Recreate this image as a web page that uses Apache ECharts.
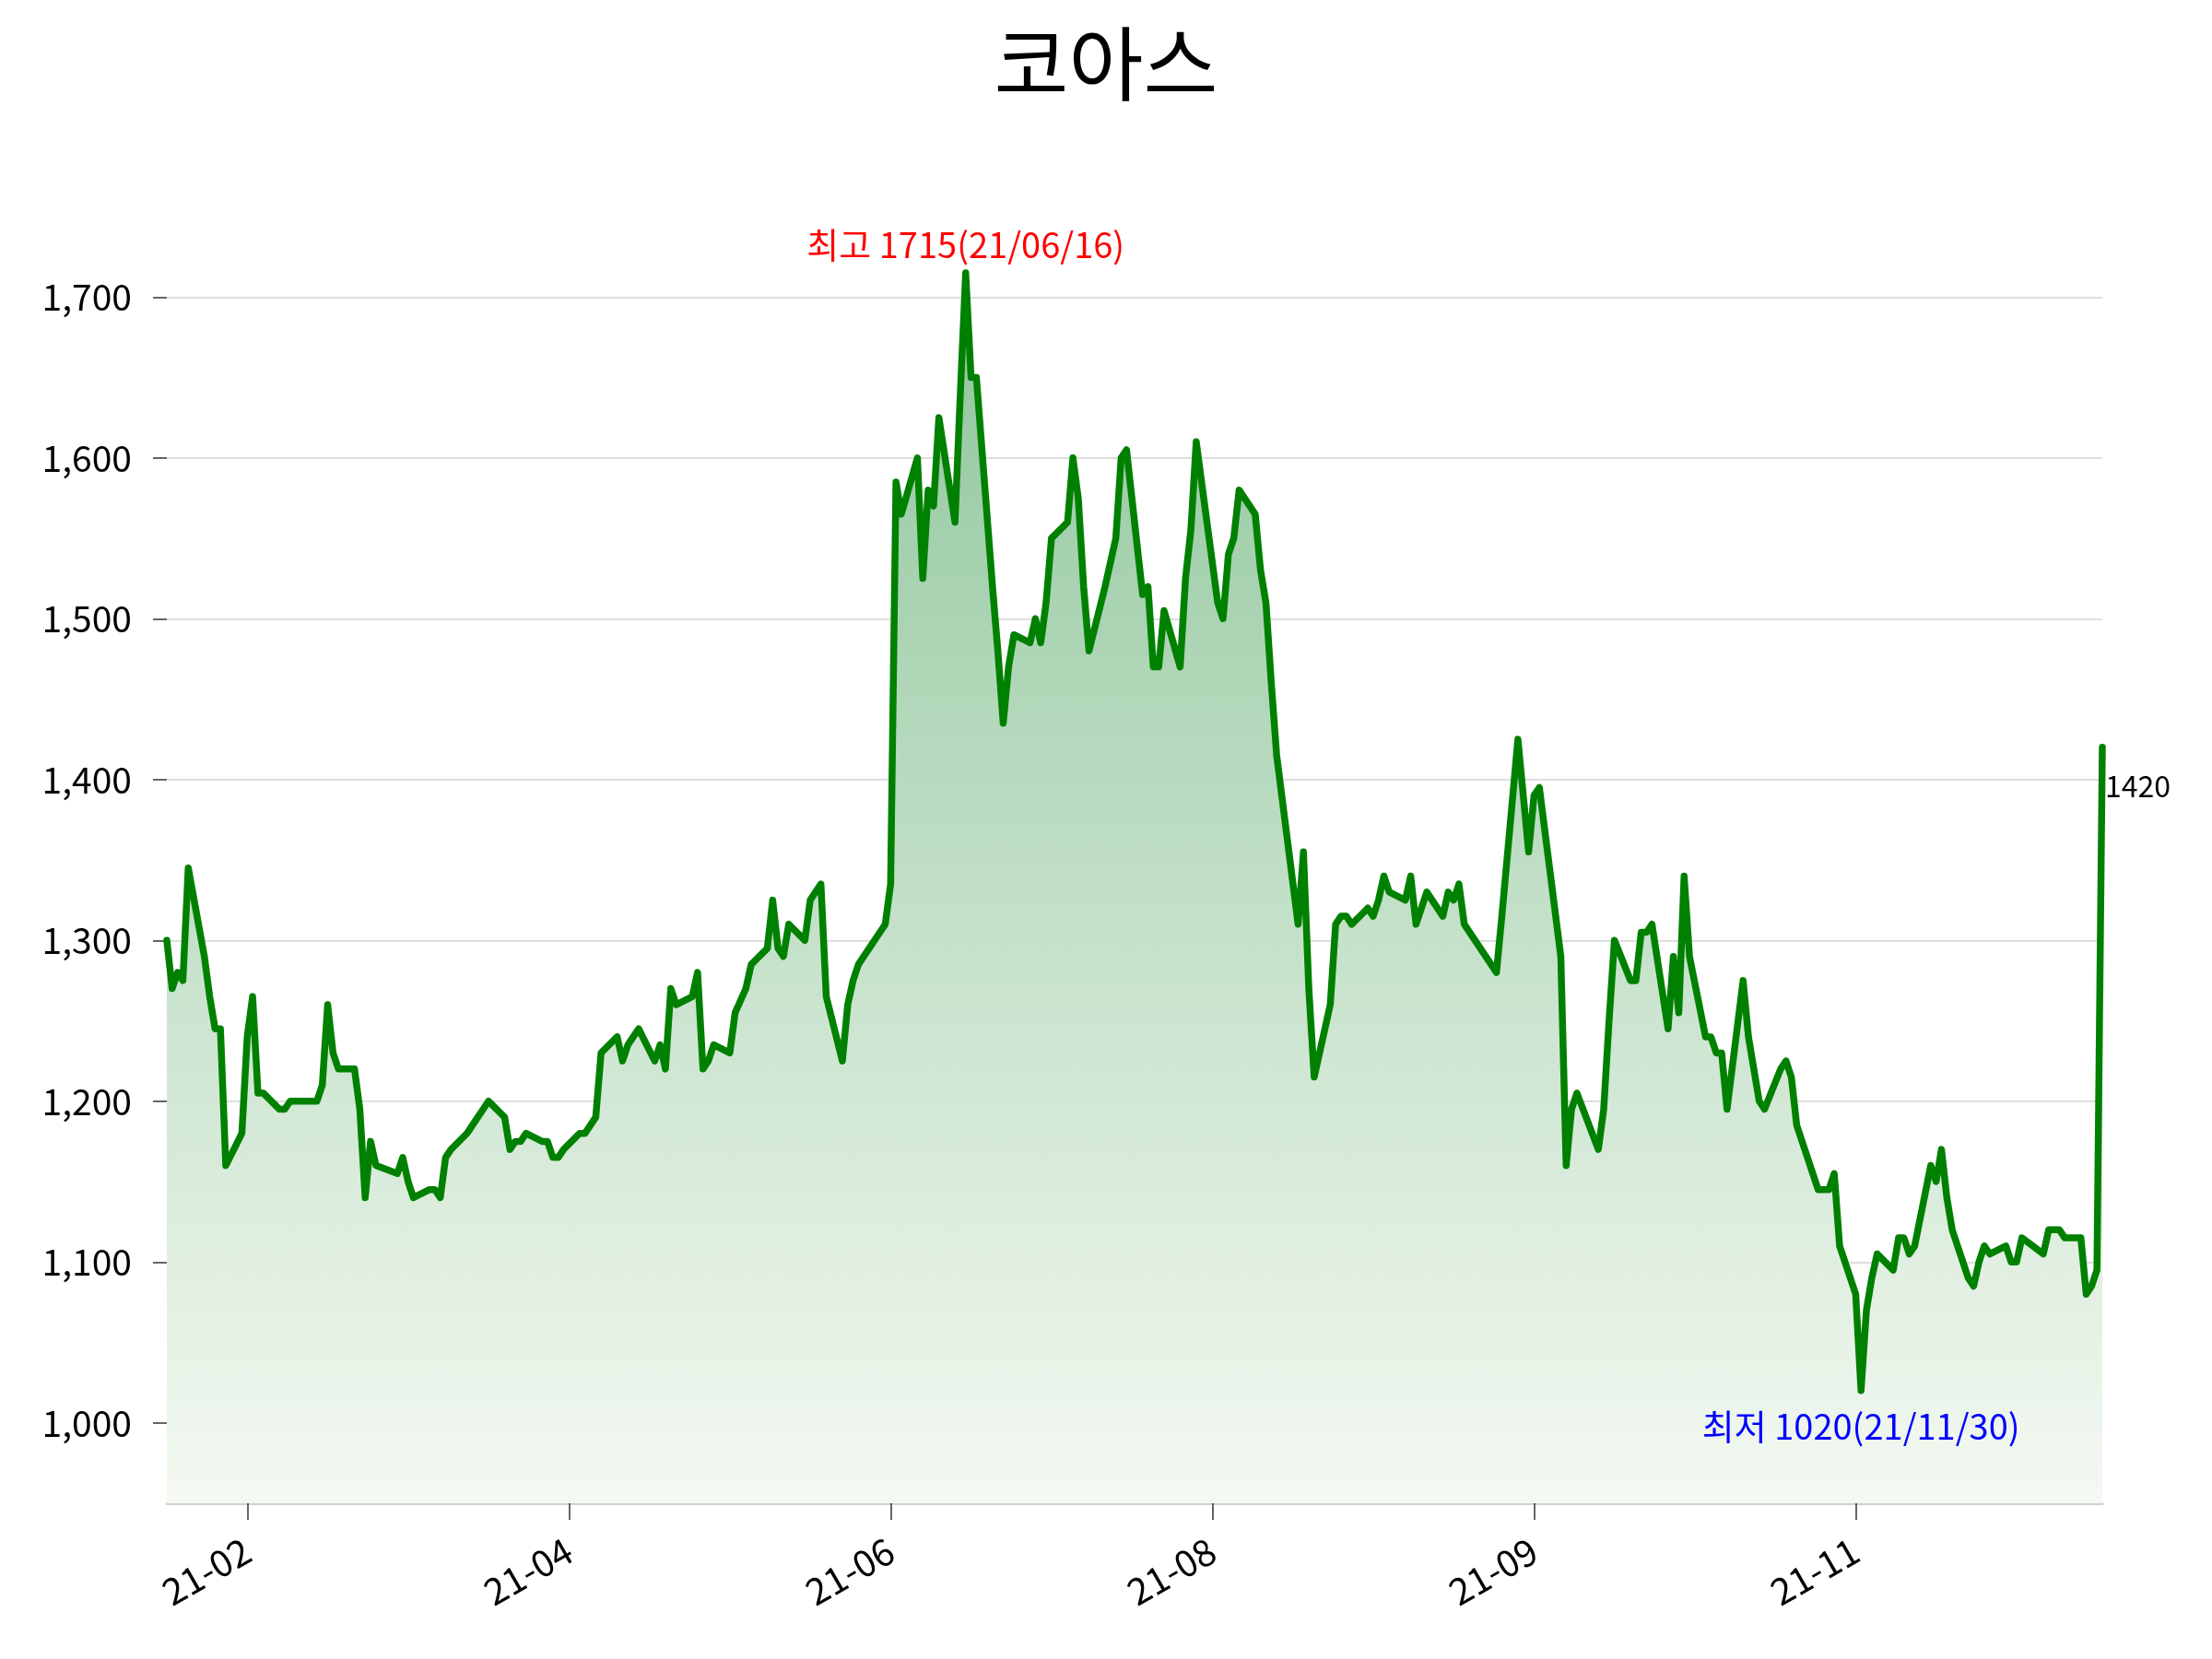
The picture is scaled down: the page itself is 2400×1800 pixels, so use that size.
<!DOCTYPE html>
<html>
<head>
<meta charset="utf-8">
<title>코아스</title>
<script src="https://cdn.jsdelivr.net/npm/echarts@6/dist/echarts.min.js"></script>
<style>
  html, body { margin: 0; padding: 0; background: #fff; }
  #chart { width: 2400px; height: 1800px; }
</style>
</head>
<body>
<div id="chart"></div>
<script>
const chartTitle = "코아스";
const fontFamily = "Noto Sans CJK KR";

// trading days and closing prices
const tradeDates = [
  "2021-01-18","2021-01-19","2021-01-20","2021-01-21","2021-01-22","2021-01-25","2021-01-26","2021-01-27","2021-01-28","2021-01-29",
  "2021-02-01","2021-02-02","2021-02-03","2021-02-04","2021-02-05","2021-02-08","2021-02-09","2021-02-10","2021-02-15","2021-02-16","2021-02-17","2021-02-18","2021-02-19","2021-02-22","2021-02-23","2021-02-24","2021-02-25","2021-02-26",
  "2021-03-02","2021-03-03","2021-03-04","2021-03-05","2021-03-08","2021-03-09","2021-03-10","2021-03-11","2021-03-12","2021-03-15","2021-03-16","2021-03-17","2021-03-18","2021-03-19","2021-03-22","2021-03-23","2021-03-24","2021-03-25","2021-03-26","2021-03-29","2021-03-30","2021-03-31",
  "2021-04-01","2021-04-02","2021-04-05","2021-04-06","2021-04-07","2021-04-08","2021-04-09","2021-04-12","2021-04-13","2021-04-14","2021-04-15","2021-04-16","2021-04-19","2021-04-20","2021-04-21","2021-04-22","2021-04-23","2021-04-26","2021-04-27","2021-04-28","2021-04-29","2021-04-30",
  "2021-05-03","2021-05-04","2021-05-06","2021-05-07","2021-05-10","2021-05-11","2021-05-12","2021-05-13","2021-05-14","2021-05-17","2021-05-18","2021-05-20","2021-05-21","2021-05-24","2021-05-25","2021-05-26","2021-05-27","2021-05-28","2021-05-31",
  "2021-06-01","2021-06-02","2021-06-03","2021-06-04","2021-06-07","2021-06-08","2021-06-09","2021-06-10","2021-06-11","2021-06-14","2021-06-15","2021-06-16","2021-06-17","2021-06-18","2021-06-21","2021-06-22","2021-06-23","2021-06-24","2021-06-25","2021-06-28","2021-06-29","2021-06-30",
  "2021-07-01","2021-07-02","2021-07-05","2021-07-06","2021-07-07","2021-07-08","2021-07-09","2021-07-12","2021-07-13","2021-07-14","2021-07-15","2021-07-16","2021-07-19","2021-07-20","2021-07-21","2021-07-22","2021-07-23","2021-07-26","2021-07-27","2021-07-28","2021-07-29","2021-07-30",
  "2021-08-02","2021-08-03","2021-08-04","2021-08-05","2021-08-06","2021-08-09","2021-08-10","2021-08-11","2021-08-12","2021-08-13","2021-08-17","2021-08-18","2021-08-19","2021-08-20","2021-08-23","2021-08-24","2021-08-25","2021-08-26","2021-08-27","2021-08-30","2021-08-31",
  "2021-09-01","2021-09-02","2021-09-03","2021-09-06","2021-09-07","2021-09-08","2021-09-09","2021-09-10","2021-09-13","2021-09-14","2021-09-15","2021-09-16","2021-09-17","2021-09-23","2021-09-24","2021-09-27","2021-09-28","2021-09-29","2021-09-30",
  "2021-10-01","2021-10-05","2021-10-06","2021-10-07","2021-10-08","2021-10-12","2021-10-13","2021-10-14","2021-10-15","2021-10-18","2021-10-19","2021-10-20","2021-10-21","2021-10-22","2021-10-25","2021-10-26","2021-10-27","2021-10-28","2021-10-29",
  "2021-11-01","2021-11-02","2021-11-03","2021-11-04","2021-11-05","2021-11-08","2021-11-09","2021-11-10","2021-11-11","2021-11-12","2021-11-15","2021-11-16","2021-11-17","2021-11-18","2021-11-19","2021-11-22","2021-11-23","2021-11-24","2021-11-25","2021-11-26","2021-11-29","2021-11-30",
  "2021-12-01","2021-12-02","2021-12-03","2021-12-06","2021-12-07","2021-12-08","2021-12-09","2021-12-10","2021-12-13","2021-12-14","2021-12-15","2021-12-16","2021-12-17","2021-12-20","2021-12-21","2021-12-22","2021-12-23","2021-12-24","2021-12-27","2021-12-28","2021-12-29","2021-12-30",
  "2022-01-03","2022-01-04","2022-01-05","2022-01-06","2022-01-07","2022-01-10","2022-01-11","2022-01-12","2022-01-13","2022-01-14"
];
const closes = [
  1300,1270,1280,1275,1345,1290,1265,1245,1245,1160,
  1180,1240,1265,1205,1205,1195,1195,1200,1200,1210,1260,1230,1220,1220,1195,1140,1175,1160,
  1155,1165,1150,1140,1145,1145,1140,1165,1170,1180,1185,1190,1195,1200,1190,1170,1175,1175,1180,1175,1175,1165,
  1165,1170,1180,1180,1185,1190,1230,1240,1225,1235,1240,1245,1225,1235,1220,1270,1260,1265,1280,1220,1225,1235,
  1230,1255,1270,1285,1295,1325,1295,1290,1310,1300,1325,1335,1265,1225,1260,1275,1285,1290,1305,
  1310,1335,1585,1565,1600,1525,1580,1570,1625,1560,1640,1715,1650,1650,1520,1480,1435,1470,1490,1485,1500,1485,
  1510,1550,1560,1600,1575,1520,1480,1520,1535,1550,1600,1605,1515,1520,1470,1470,1505,1470,1525,1555,1610,1585,
  1510,1500,1540,1550,1580,1565,1530,1510,1460,1415,1310,1355,1270,1215,1260,1310,1315,1315,1310,1320,1315,
  1325,1340,1330,1325,1340,1310,1320,1330,1315,1330,1325,1335,1310,1280,1315,1425,1390,1355,1390,
  1395,1290,1160,1195,1205,1170,1195,1250,1300,1275,1275,1305,1305,1310,1245,1290,1255,1340,1290,
  1240,1240,1230,1230,1195,1275,1240,1220,1200,1195,1220,1225,1215,1185,1175,1145,1145,1145,1155,1110,1080,1020,
  1070,1090,1105,1095,1115,1115,1105,1110,1160,1150,1170,1140,1120,1090,1085,1100,1110,1105,1110,1100,1100,1115,
  1105,1120,1120,1120,1115,1115,1080,1085,1095,1420
];

// axis ticks
const xTickDates = ["2021-02-02", "2021-04-03", "2021-06-02", "2021-08-01", "2021-09-30", "2021-11-29"];
const xRange = ["2021-01-18", "2022-01-14"];
const yTicks = [1000, 1100, 1200, 1300, 1400, 1500, 1600, 1700];
const yRange = [950, 1750];

function toTime(s) {
  const p = s.split("-").map(Number);
  return new Date(p[0], p[1] - 1, p[2]).getTime();
}
function pad(n) {
  return (n < 10 ? "0" : "") + n;
}
function shortDate(s) {
  return s.slice(2).replace(/-/g, "/");
}

const seriesData = tradeDates.map(function (d, i) {
  return [toTime(d), closes[i]];
});

let hi = 0, lo = 0;
closes.forEach(function (v, i) {
  if (v > closes[hi]) hi = i;
  if (v < closes[lo]) lo = i;
});
const last = closes.length - 1;
const xTicks = xTickDates.map(toTime);

const chart = echarts.init(document.getElementById("chart"));
chart.setOption({
  animation: false,
  backgroundColor: "#ffffff",
  title: {
    text: chartTitle,
    left: "center",
    top: 20,
    textStyle: { fontSize: 88, fontWeight: "normal", color: "#000", fontFamily: fontFamily }
  },
  grid: { left: 181, right: 119, top: 235, bottom: 169 },
  xAxis: {
    type: "value",
    min: toTime(xRange[0]),
    max: toTime(xRange[1]),
    axisLine: { show: true, lineStyle: { color: "#d0d0d0", width: 3 } },
    axisTick: {
      show: true,
      customValues: xTicks,
      length: 18,
      lineStyle: { color: "#333", width: 1.5 }
    },
    axisLabel: {
      customValues: xTicks,
      rotate: 30,
      margin: 48,
      fontSize: 40,
      color: "#000",
      fontFamily: fontFamily,
      formatter: function (v) {
        const d = new Date(v);
        return String(d.getFullYear()).slice(2) + "-" + pad(d.getMonth() + 1);
      }
    },
    splitLine: { show: false }
  },
  yAxis: {
    type: "value",
    min: yRange[0],
    max: yRange[1],
    axisLine: { show: false },
    axisTick: {
      show: true,
      customValues: yTicks,
      length: 15,
      lineStyle: { color: "#333", width: 1.5 }
    },
    axisLabel: {
      customValues: yTicks,
      margin: 38,
      fontSize: 39,
      color: "#000",
      fontFamily: fontFamily,
      formatter: function (v) {
        return v.toLocaleString("en-US");
      }
    },
    splitLine: { show: true, lineStyle: { color: "#d3d3d3", width: 1.5 } }
  },
  series: [
    {
      type: "line",
      data: seriesData,
      showSymbol: false,
      lineStyle: { color: "#008000", width: 7.5, cap: "round", join: "round" },
      itemStyle: { color: "#008000" },
      areaStyle: {
        opacity: 1,
        color: new echarts.graphic.LinearGradient(0, 0, 0, 1, [
          { offset: 0, color: "#8ec59b" },
          { offset: 1, color: "#f4f9f2" }
        ])
      },
      markPoint: {
        symbol: "circle",
        symbolSize: 0,
        data: [
          {
            coord: seriesData[hi],
            label: {
              show: true, position: "inside", offset: [0, -31],
              formatter: "최고 " + closes[hi] + "(" + shortDate(tradeDates[hi]) + ")",
              color: "red", fontSize: 38, fontFamily: fontFamily
            }
          },
          {
            coord: seriesData[lo],
            label: {
              show: true, position: "inside", offset: [0, 39],
              formatter: "최저 " + closes[lo] + "(" + shortDate(tradeDates[lo]) + ")",
              color: "blue", fontSize: 38, fontFamily: fontFamily
            }
          },
          {
            coord: seriesData[last],
            label: {
              show: true, position: "right", distance: 3, offset: [0, 42],
              formatter: String(closes[last]),
              color: "#000", fontSize: 32, fontFamily: fontFamily
            }
          }
        ]
      }
    }
  ]
});
</script>
</body>
</html>
